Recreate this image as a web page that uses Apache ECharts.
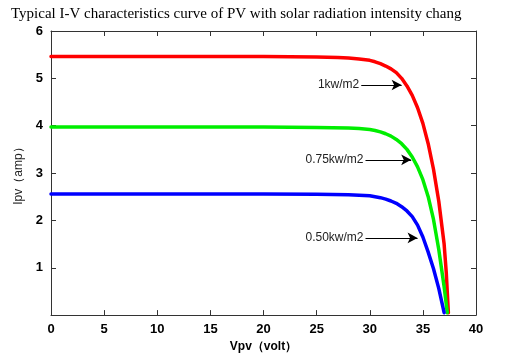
<!DOCTYPE html>
<html>
<head>
<meta charset="utf-8">
<script src="https://cdn.jsdelivr.net/npm/echarts@6/dist/echarts.min.js"></script>
<style>
  html, body { margin: 0; padding: 0; background: #fff; }
  #chart { width: 520px; height: 358px; }
</style>
</head>
<body>
<div id="chart"></div>
<script>
// 1 kW/m2 curve
const redV = [0, 5, 10, 15, 20, 25, 27, 28, 29, 30, 30.5, 31, 31.5, 32, 32.5, 33, 33.5, 34, 34.5, 35, 35.5, 36, 36.5, 37, 37.2, 37.4];
const redI = [5.46, 5.46, 5.46, 5.46, 5.46, 5.45, 5.44, 5.43, 5.41, 5.38, 5.35, 5.31, 5.26, 5.2, 5.12, 5.0, 4.84, 4.64, 4.38, 4.05, 3.62, 3.08, 2.4, 1.5, 0.9, 0.05];
// 0.75 kW/m2 curve
const greenV = [0, 5, 10, 15, 20, 25, 28, 29, 30, 30.5, 31, 31.5, 32, 32.5, 33, 33.5, 34, 34.5, 35, 35.5, 36, 36.5, 37, 37.3];
const greenI = [3.97, 3.97, 3.97, 3.97, 3.97, 3.96, 3.95, 3.94, 3.92, 3.9, 3.87, 3.83, 3.78, 3.71, 3.62, 3.5, 3.34, 3.13, 2.86, 2.5, 2.02, 1.38, 0.6, 0.05];
// 0.50 kW/m2 curve
const blueV = [0, 5, 10, 15, 20, 25, 28, 29, 30, 30.5, 31, 31.5, 32, 32.5, 33, 33.5, 34, 34.5, 35, 35.5, 36, 36.5, 37];
const blueI = [2.56, 2.56, 2.56, 2.56, 2.56, 2.55, 2.54, 2.53, 2.52, 2.5, 2.48, 2.45, 2.41, 2.36, 2.29, 2.2, 2.08, 1.9, 1.65, 1.33, 0.98, 0.56, 0.05];

// annotation arrows: [label, startV, endV, current]
const notes = [
  ["1kw/m2", 29.2, 33.0, 4.86],
  ["0.75kw/m2", 29.6, 33.9, 3.28],
  ["0.50kw/m2", 29.6, 34.5, 1.63]
];

const zip = (xs, ys) => xs.map((x, i) => [x, ys[i]]);

const chart = echarts.init(document.getElementById("chart"));

const axisCommon = {
  axisLine: { onZero: false, lineStyle: { color: "#333", width: 1 } },
  axisTick: { inside: true, length: 5, lineStyle: { color: "#333" } },
  splitLine: { show: false }
};

const lbl = { fontFamily: "Liberation Sans", fontWeight: "bold", fontSize: 13, color: "#000" };

const arrowSeries = {
  type: "line",
  data: [],
  markLine: {
    silent: true,
    symbol: ["none", "arrow"],
    symbolSize: [8, 10],
    lineStyle: { color: "#000", width: 1, type: "solid" },
    label: {
      show: true,
      position: "start",
      distance: 2,
      fontFamily: "Liberation Sans",
      fontSize: 12,
      color: "#222",
      formatter: p => p.name
    },
    data: notes.map(n => [
      { name: n[0], coord: [n[1], n[3]] },
      { coord: [n[2], n[3]] }
    ])
  }
};

const curve = (name, color, v, i) => ({
  name: name,
  type: "line",
  data: zip(v, i),
  showSymbol: false,
  lineStyle: { color: color, width: 3.5, join: "round", cap: "round" },
  itemStyle: { color: color }
});

chart.setOption({
  animation: false,
  title: {
    text: "Typical I-V characteristics curve of PV with solar radiation intensity chang",
    left: 6,
    top: 2,
    textStyle: { fontFamily: "Liberation Serif", fontWeight: "normal", fontSize: 15, color: "#000" }
  },
  grid: { left: 51, right: 44, top: 31, bottom: 37 },
  xAxis: [
    {
      ...axisCommon,
      type: "value",
      min: 0,
      max: 40,
      interval: 5,
      axisLabel: { ...lbl, margin: 8 },
      name: "Vpv（volt）",
      nameLocation: "middle",
      nameGap: 22,
      nameTextStyle: { fontFamily: "Liberation Sans", fontWeight: "bold", fontSize: 12, color: "#000" }
    },
    { ...axisCommon, type: "value", position: "top", min: 0, max: 40, interval: 5, axisLabel: { show: false } }
  ],
  yAxis: [
    {
      ...axisCommon,
      type: "value",
      min: 0,
      max: 6,
      interval: 1,
      axisLabel: { ...lbl, margin: 8, showMinLabel: false },
      name: "Ipv（amp）",
      nameLocation: "middle",
      nameGap: 20,
      nameTextStyle: { fontFamily: "Liberation Sans", fontSize: 12, color: "#222" }
    },
    { ...axisCommon, type: "value", position: "right", min: 0, max: 6, interval: 1, axisLabel: { show: false } }
  ],
  series: [
    curve("1kw/m2", "#ff0000", redV, redI),
    curve("0.75kw/m2", "#00ee00", greenV, greenI),
    curve("0.50kw/m2", "#0000ff", blueV, blueI),
    arrowSeries
  ]
});
</script>
</body>
</html>
